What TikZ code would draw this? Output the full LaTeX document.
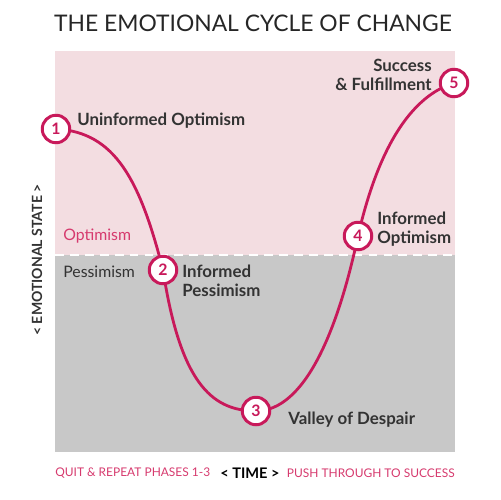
\documentclass[tikz,border=0pt]{standalone}
\usepackage{fontspec}
\setmainfont{Lato}
\usetikzlibrary{positioning}

\definecolor{crimson}{HTML}{C8195A}
\definecolor{pinktext}{HTML}{D63A6E}
\definecolor{pinkbg}{HTML}{F3DDE1}
\definecolor{graybg}{HTML}{C8C8C8}
\definecolor{darktext}{HTML}{333333}

\begin{document}
\begin{tikzpicture}[x=0.02cm, y=-0.02cm,
    phase/.style={circle, draw=crimson, line width=1.7pt, fill=white, minimum size=0.55cm, inner sep=0pt, text=crimson, font=\bfseries\small},
    lbl/.style={font=\bfseries\fontsize{9.6}{10.5}\selectfont, text=darktext, align=left, inner sep=0pt},
    zone/.style={font=\small, inner sep=0pt, anchor=west},
    foot/.style={font=\fontsize{6.8}{8}\selectfont, text=pinktext, inner sep=0pt}]

   \useasboundingbox (0,0) rectangle (500,500);
   \fill[pinkbg] (55,51) rectangle (455,255);
   \fill[graybg] (55,255) rectangle (455,452);
   \draw[white, line width=1.2pt, dash pattern=on 5pt off 3.5pt] (55,255) -- (455,255);

   \node[font=\fontsize{13}{15}\selectfont, text=black!85] (title) at (253,23) {THE EMOTIONAL CYCLE OF CHANGE};

   \foreach \t/\x/\y in {1/56/129, 2/163/270, 3/256/411, 4/358/236, 5/454/83}
     \coordinate (p\t) at (\x,\y);

   \draw[crimson, line width=1.6pt] (p1) .. controls (115,132) and (140,180) .. (p2)
       .. controls (180,380) and (210,411) .. (p3)
       .. controls (305,411) and (338,330) .. (p4)
       .. controls (380,140) and (415,95) .. (p5);

   \foreach \t in {1,...,5}
     \node[phase] (c\t) at (p\t) {\t};

   \node[lbl, anchor=west] (l1) at (77,121) {Uninformed Optimism};
   \node[lbl, anchor=west] (l2) at (182,281) {Informed\\Pessimism};
   \node[lbl, anchor=west] (l3) at (288,420) {Valley of Despair};
   \node[lbl, anchor=west] (l4) at (377,229) {Informed\\Optimism};
   \node[lbl, align=right, anchor=east] (l5) at (432,75) {Success\\\& Fulfillment};

   \node[zone, text=pinktext] (opt) at (63,236) {Optimism};
   \node[zone, text=darktext] (pes) at (63,272) {Pessimism};

   \node[rotate=90, font=\bfseries\fontsize{8}{9}\selectfont, text=darktext] (ylab) at (37,260) {<\ EMOTIONAL STATE\ >};

   \node[font=\bfseries\fontsize{8.3}{9}\selectfont, text=black, inner sep=0pt] (time) at (250,473) {<\ TIME\ >};
   \node[foot, anchor=west] (quit) at (55,473) {QUIT \& REPEAT PHASES 1-3};
   \node[foot, anchor=east] (push) at (455,473) {PUSH THROUGH TO SUCCESS};

\end{tikzpicture}
\end{document}
